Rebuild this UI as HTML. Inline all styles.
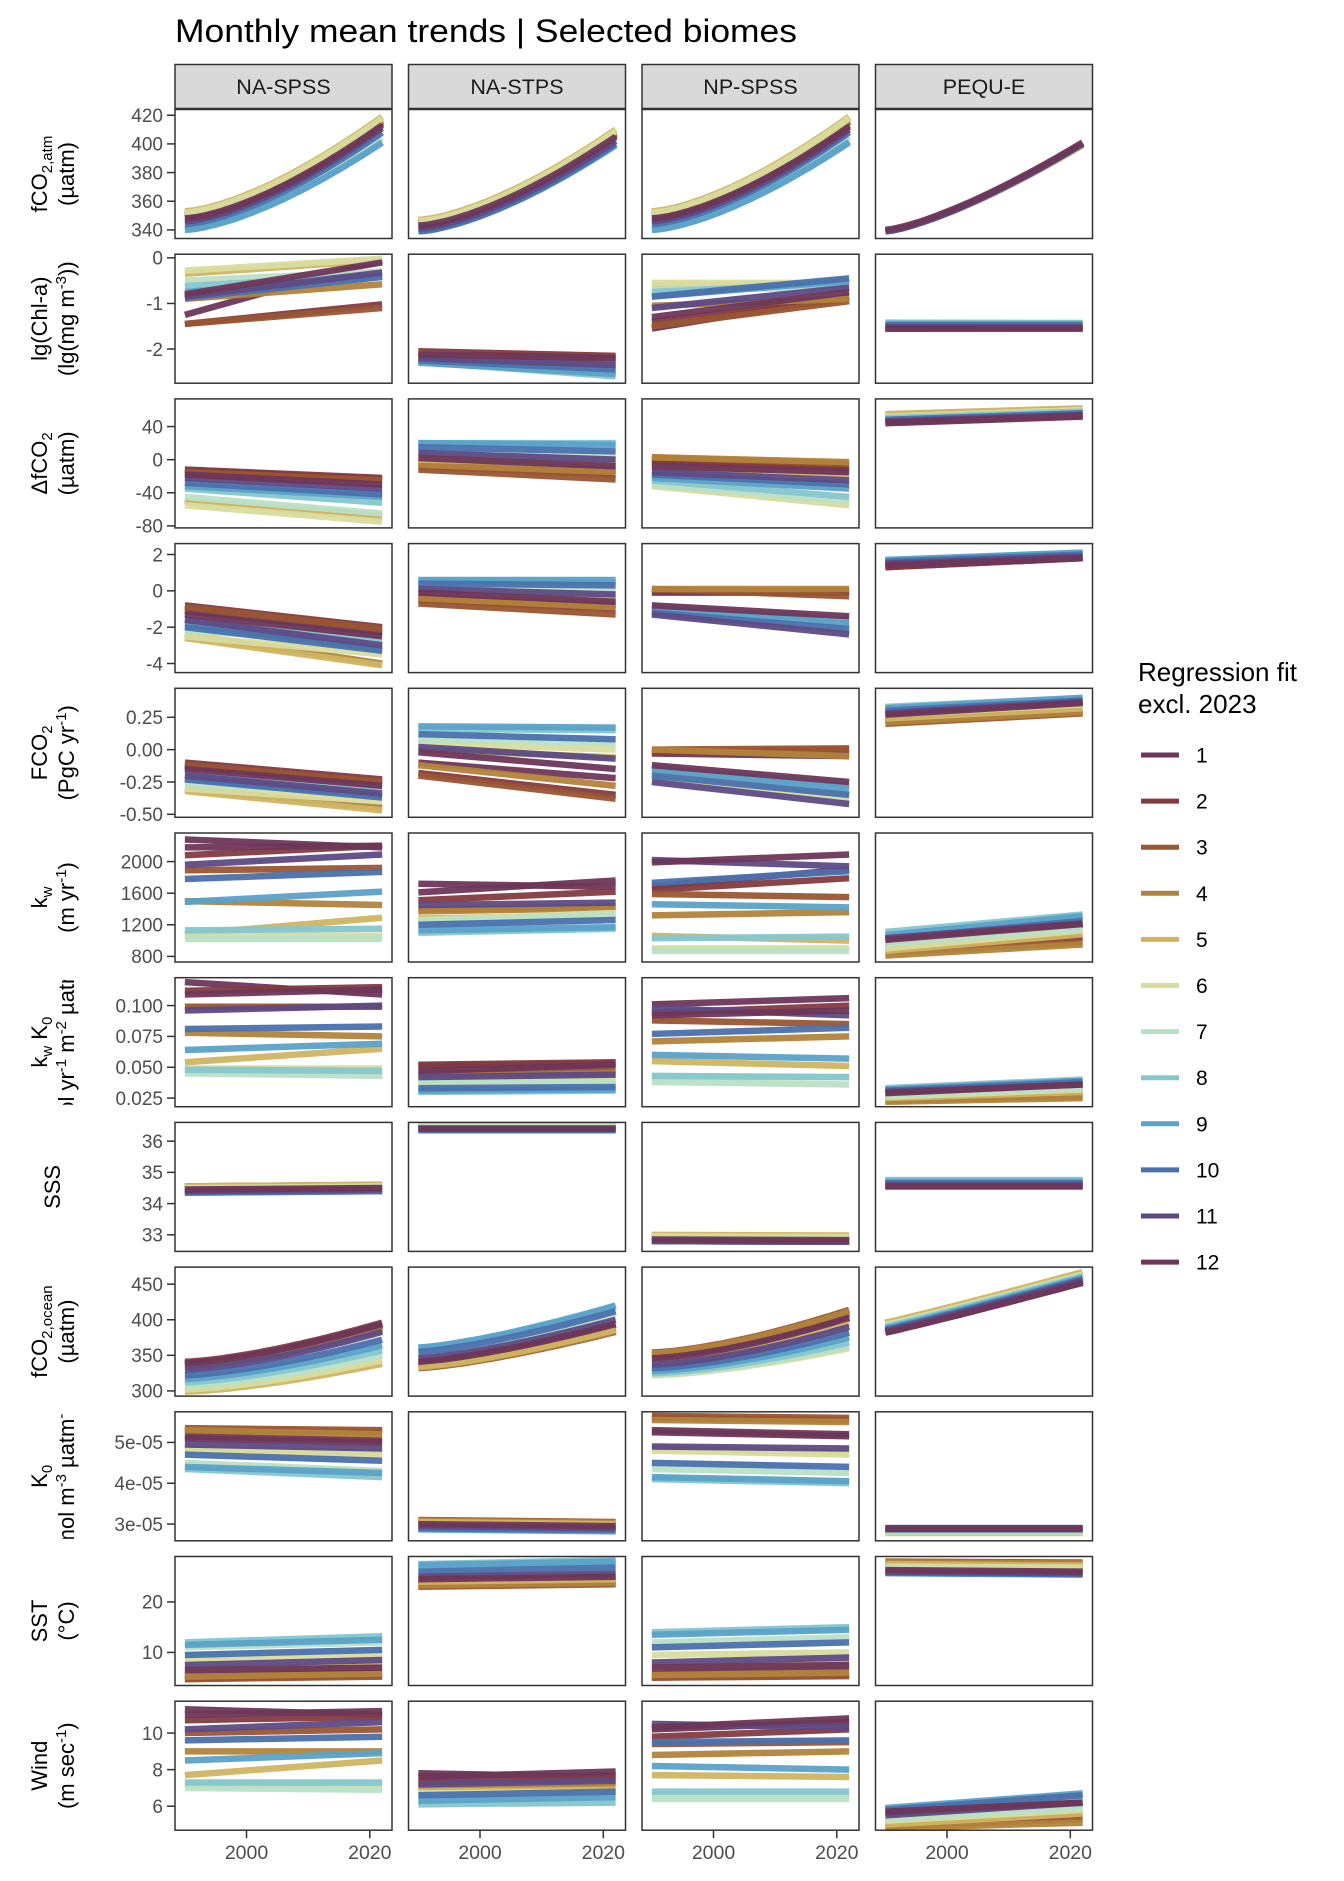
<!DOCTYPE html>
<html><head><meta charset="utf-8"><style>
html,body{margin:0;padding:0;background:#fff;}
svg{display:block;font-family:"Liberation Sans",Arial,sans-serif;}
</style></head><body>
<svg id="chart" width="1344" height="1881" viewBox="0 0 1344 1881" xmlns="http://www.w3.org/2000/svg">
<text x="175" y="42" font-size="32" fill="#000" textLength="622" lengthAdjust="spacingAndGlyphs">Monthly mean trends | Selected biomes</text>
<g id="panels"></g>
<g id="ytitles"></g>
<g id="legend"></g>
</svg>
<script>
const months = [1,2,3,4,5,6,7,8,9,10,11,12];
const biomes = ["NA-SPSS","NA-STPS","NP-SPSS","PEQU-E"];
const xTicks = [2000, 2020];
const yearStart = 1990, yearEnd = 2022;
const monthColors = ["#6e3658","#843b40","#9a5531","#b2833a","#d0b461","#d8dc9d","#b9e0c6","#85c6cf","#5aa2c8","#4a71ad","#5d4a85","#6e3658"];

const fco2atmStart = [[349,350,351,352,353,352,342,340,340,344,346,348],[344,345,346,346,347,346,343,341,339,339,341,343],[349,351,352,352,353,352,342,340,340,344,346,348],[339,339,339,339,339,339,339,339,339,339,339,340]];
const fco2atmEnd = [[414,415,416,417,419,418,404,401,401,408,411,413],[406,407,408,409,410,409,404,402,399,400,402,405],[413,415,416,417,419,418,405,402,401,408,410,412],[400,400,400,399,399,399,400,400,400,400,400,401]];
const chlStart = [[-1.25,-1.45,-1.45,-0.9,-0.35,-0.28,-0.5,-0.62,-0.75,-0.88,-0.85,-0.8],[-2.1,-2.05,-2.1,-2.12,-2.15,-2.2,-2.25,-2.28,-2.3,-2.25,-2.2,-2.12],[-1.55,-1.4,-1.5,-1.05,-0.6,-0.55,-0.7,-0.75,-0.85,-0.85,-1.1,-1.3],[-1.55,-1.55,-1.55,-1.52,-1.5,-1.47,-1.43,-1.42,-1.45,-1.48,-1.52,-1.55]];
const chlEnd = [[-0.05,-1.02,-1.1,-0.58,-0.05,-0.02,-0.3,-0.38,-0.4,-0.42,-0.32,-0.1],[-2.2,-2.15,-2.25,-2.3,-2.4,-2.5,-2.55,-2.6,-2.55,-2.45,-2.35,-2.2],[-0.85,-0.9,-0.95,-0.9,-0.6,-0.55,-0.65,-0.55,-0.5,-0.45,-0.65,-0.75],[-1.55,-1.55,-1.54,-1.52,-1.5,-1.47,-1.44,-1.43,-1.45,-1.48,-1.52,-1.55]];
const dfco2Start = [[-12,-12,-15,-50,-50,-55,-45,-35,-32,-28,-22,-18],[-3,-8,-12,-6,0,5,10,20,20,15,8,2],[-5,0,3,3,-10,-32,-30,-25,-22,-18,-15,-8],[44,46,50,53,55,52,50,50,48,48,46,45]];
const dfco2End = [[-24,-22,-25,-68,-70,-75,-65,-52,-45,-42,-35,-30],[-12,-18,-24,-15,-5,-2,5,20,18,10,0,-8],[-12,-8,-5,-3,-18,-55,-50,-45,-35,-30,-25,-15],[52,54,58,61,62,60,58,58,56,56,54,53]];
const row4Start = [[-1.1,-0.8,-0.9,-2.4,-2.6,-2.5,-2.2,-1.6,-1.8,-2.0,-1.6,-1.3],[-0.3,-0.5,-0.7,-0.4,0,0.1,0.3,0.5,0.6,0.4,0.1,-0.1],[-0.1,0,0.1,0.1,-1.1,-1.2,-1.1,-0.9,-1.0,-1.2,-1.3,-0.8],[1.3,1.3,1.4,1.5,1.6,1.6,1.6,1.7,1.7,1.6,1.5,1.4]];
const row4End = [[-2.3,-2.0,-2.1,-4.0,-4.1,-3.5,-2.8,-2.7,-3.2,-3.3,-3.0,-2.5],[-0.8,-1.0,-1.3,-0.9,-0.5,-0.3,0,0.5,0.6,0.3,-0.2,-0.6],[-0.1,0,-0.3,0.1,-2.0,-2.2,-1.9,-1.6,-1.8,-2.1,-2.4,-1.4],[1.8,1.8,1.9,2.0,2.1,2.0,2.0,2.1,2.1,2.0,1.9,1.8]];
const fluxStart = [[-0.13,-0.1,-0.12,-0.3,-0.32,-0.3,-0.27,-0.2,-0.22,-0.23,-0.2,-0.15],[-0.1,-0.18,-0.2,-0.12,0,0.05,0.08,0.16,0.18,0.12,0.02,-0.02],[-0.03,-0.02,0,0,-0.18,-0.2,-0.17,-0.14,-0.15,-0.2,-0.25,-0.12],[0.27,0.22,0.2,0.21,0.24,0.27,0.3,0.33,0.32,0.3,0.28,0.27]];
const fluxEnd = [[-0.26,-0.23,-0.25,-0.45,-0.47,-0.4,-0.33,-0.3,-0.36,-0.37,-0.34,-0.28],[-0.22,-0.35,-0.38,-0.28,-0.06,0,0.05,0.15,0.17,0.08,-0.07,-0.15],[-0.05,0,0.01,-0.05,-0.35,-0.38,-0.32,-0.28,-0.3,-0.35,-0.42,-0.25],[0.36,0.3,0.28,0.29,0.32,0.35,0.38,0.4,0.4,0.38,0.37,0.36]];
const kwStart = [[2280,2080,1890,1500,1080,1060,1020,1130,1490,1780,1960,2180],[1720,1510,1390,1370,1280,1260,1250,1100,1130,1200,1450,1610],[1690,1640,1590,1320,1060,900,870,1030,1460,1730,2020,1990],[1000,930,850,810,870,900,960,1110,1070,1020,1030,1010]];
const kwEnd = [[2180,2200,1920,1450,1290,1060,1020,1150,1620,1870,2090,2200],[1680,1620,1430,1410,1320,1350,1330,1150,1170,1260,1480,1760],[1900,1790,1550,1360,1000,900,870,1050,1420,1880,1940,2090],[1200,1040,980,950,1080,1130,1150,1330,1310,1250,1220,1210]];
const kwk0Start = [[0.119,0.112,0.099,0.078,0.054,0.049,0.045,0.048,0.064,0.081,0.096,0.109],[0.051,0.052,0.045,0.042,0.039,0.038,0.037,0.030,0.031,0.033,0.042,0.047],[0.101,0.094,0.088,0.071,0.055,0.042,0.038,0.043,0.060,0.077,0.098,0.092],[0.029,0.026,0.023,0.022,0.025,0.026,0.027,0.033,0.032,0.031,0.030,0.029]];
const kwk0End = [[0.109,0.115,0.099,0.075,0.065,0.049,0.043,0.047,0.069,0.083,0.100,0.113],[0.053,0.054,0.048,0.045,0.040,0.039,0.038,0.031,0.032,0.034,0.044,0.052],[0.106,0.100,0.085,0.075,0.051,0.042,0.036,0.042,0.057,0.082,0.092,0.096],[0.035,0.031,0.027,0.025,0.030,0.032,0.033,0.040,0.039,0.038,0.036,0.036]];
const sssStart = [[34.45,34.5,34.55,34.55,34.55,34.5,34.45,34.4,34.35,34.35,34.4,34.45],[36.4,36.45,36.5,36.55,36.55,36.5,36.45,36.4,36.35,36.35,36.4,36.4],[32.85,32.9,32.95,32.95,33.0,32.95,32.85,32.8,32.8,32.8,32.8,32.85],[34.55,34.6,34.65,34.7,34.7,34.7,34.75,34.75,34.7,34.65,34.6,34.55]];
const sssEnd = [[34.5,34.55,34.6,34.6,34.6,34.55,34.5,34.45,34.4,34.4,34.45,34.5],[36.4,36.45,36.5,36.55,36.55,36.5,36.45,36.4,36.35,36.35,36.4,36.4],[32.83,32.88,32.93,32.93,32.98,32.93,32.83,32.78,32.78,32.78,32.78,32.83],[34.55,34.6,34.65,34.7,34.7,34.7,34.75,34.75,34.7,34.65,34.6,34.55]];
const fco2ocStart = [[338,341,336,334,299,302,307,312,317,322,330,339],[340,336,332,333,334,348,352,360,361,355,346,341],[345,350,354,353,340,322,323,325,328,332,337,346],[382,384,390,394,396,393,391,390,388,386,384,382]];
const fco2ocEnd = [[392,396,388,386,338,343,350,357,364,372,383,394],[393,388,383,384,386,404,410,419,420,412,400,394],[402,408,414,412,395,360,363,368,375,382,390,403],[452,455,462,465,467,464,462,461,459,457,455,452]];
const k0Start = [[5.15,5.3,5.35,5.3,4.85,4.8,4.5,4.35,4.4,4.7,4.95,5.1],[3.0,3.05,3.1,3.08,3.05,3.0,2.95,2.9,2.87,2.9,2.95,3.0],[5.3,5.6,5.65,5.55,4.85,4.8,4.35,4.1,4.15,4.5,4.9,5.25],[2.88,2.88,2.85,2.8,2.78,2.8,2.82,2.85,2.88,2.9,2.9,2.88]];
const k0End = [[5.05,5.25,5.3,5.2,4.75,4.7,4.3,4.15,4.25,4.55,4.85,5.0],[2.95,3.0,3.05,3.03,3.0,2.95,2.9,2.85,2.82,2.85,2.9,2.95],[5.2,5.55,5.6,5.5,4.75,4.7,4.25,4.0,4.05,4.4,4.85,5.15],[2.88,2.88,2.85,2.8,2.78,2.8,2.82,2.85,2.88,2.9,2.9,2.88]];
const sstStart = [[5.5,4.8,4.7,5.2,6.5,8.5,11,12,11.5,9.5,7.5,6.5],[24,23.5,23,23.3,24,25.5,26.5,27.5,27.3,26,25,24.5],[6,5,5,5.5,7,9.5,12,14,13.5,11,8,7],[26.8,27.5,28,27.8,27.5,27,26.5,26.2,25.7,25.8,26,26.3]];
const sstEnd = [[6.0,5.5,5.2,5.8,7.5,9.5,12,13.2,12.5,10.5,8.5,7.0],[24.3,24,23.5,23.8,24.5,26,27.2,28.3,28,26.8,25.5,25],[6.5,5.5,5.3,6,8,10,13,15,14.5,12,9,7.5],[26.5,27.3,27.8,27.6,27.2,26.8,26.2,25.9,25.4,25.5,25.7,26]];
const windStart = [[11.3,10.7,10.0,9.0,7.7,7.2,7.0,7.3,8.5,9.6,10.2,11.0],[7.8,7.4,7.2,7.0,6.8,6.7,6.6,6.1,6.3,6.6,7.2,7.6],[10.2,9.8,9.4,8.8,7.7,6.6,6.4,6.8,8.2,9.5,10.5,10.3],[5.5,5.2,4.9,4.8,5.0,5.2,5.3,5.7,5.9,5.8,5.5,5.7]];
const windEnd = [[11.0,10.9,10.2,9.0,8.5,7.1,6.9,7.3,8.9,9.8,10.6,11.2],[7.6,7.7,7.3,7.1,6.9,6.8,6.7,6.2,6.5,6.8,7.4,7.9],[10.6,10.2,9.5,9.0,7.6,6.6,6.4,6.8,8.0,9.6,10.3,10.8],[6.1,5.6,5.3,5.1,5.6,5.8,5.9,6.5,6.7,6.6,6.2,6.2]];

const tickFco2atm = [340,360,380,400,420];
const tickChl = [0,-1,-2];
const tickDfco2 = [40,0,-40,-80];
const tickRow4 = [2,0,-2,-4];
const tickFlux = [0.25,0,-0.25,-0.5];
const tickKw = [800,1200,1600,2000];
const tickKwk0 = [0.1,0.075,0.05,0.025];
const tickSss = [33,34,35,36];
const tickFco2oc = [300,350,400,450];
const tickK0 = [3,4,5];
const tickSst = [10,20];
const tickWind = [6,8,10];

const NS = "http://www.w3.org/2000/svg";
function mk(tag, attrs, parent){const e=document.createElementNS(NS,tag);for(const k in attrs)e.setAttribute(k,attrs[k]);if(parent)parent.appendChild(e);return e;}

const rows = [
 {name:"fco2-atm", s:fco2atmStart, e:fco2atmEnd, lo:334, hi:424, ticks:tickFco2atm, fmt:v=>String(v), curve:[1.5,1.5,1.5,1.35]},
 {name:"chl", s:chlStart, e:chlEnd, lo:-2.75, hi:0.08, ticks:tickChl, fmt:v=>String(v)},
 {name:"delta-fco2", s:dfco2Start, e:dfco2End, lo:-82.4, hi:73.4, ticks:tickDfco2, fmt:v=>String(v)},
 {name:"row4", s:row4Start, e:row4End, lo:-4.5, hi:2.6, ticks:tickRow4, fmt:v=>String(v)},
 {name:"fco2-flux", s:fluxStart, e:fluxEnd, lo:-0.523, hi:0.474, ticks:tickFlux, fmt:v=>v.toFixed(2)},
 {name:"kw", s:kwStart, e:kwEnd, lo:729, hi:2362, ticks:tickKw, fmt:v=>String(v)},
 {name:"kw-k0", s:kwk0Start, e:kwk0End, lo:0.018, hi:0.1226, ticks:tickKwk0, fmt:v=>v.toFixed(3)},
 {name:"sss", s:sssStart, e:sssEnd, lo:32.47, hi:36.6, ticks:tickSss, fmt:v=>String(v)},
 {name:"fco2-ocean", s:fco2ocStart, e:fco2ocEnd, lo:292.7, hi:474, ticks:tickFco2oc, fmt:v=>String(v), curve:[1.45,1.35,1.5,1.05]},
 {name:"k0", s:k0Start, e:k0End, lo:2.59, hi:5.75, ticks:tickK0, fmt:v=>v+"e-05"},
 {name:"sst", s:sstStart, e:sstEnd, lo:3.45, hi:29.0, ticks:tickSst, fmt:v=>String(v)},
 {name:"wind", s:windStart, e:windEnd, lo:4.69, hi:11.74, ticks:tickWind, fmt:v=>String(v)}
];

const P_LEFT0=175, P_STEP=233.5, P_W=217, R_TOP0=109.5, R_STEP=144.7, R_H=129;
const X0=1988.4, X1=2023.6;
function xScale(c, yr){return P_LEFT0 + c*P_STEP + (yr-X0)/(X1-X0)*P_W;}
function yScale(r, v){const R=rows[r];const top=R_TOP0+r*R_STEP;return top + (R.hi - v)/(R.hi-R.lo)*R_H;}

const panels=document.getElementById("panels");
biomes.forEach((b,c)=>{
  const x=P_LEFT0+c*P_STEP;
  const g=mk("g",{},panels);
  
  
  mk("rect",{x:x,y:64.5,width:P_W,height:44,fill:"#d9d9d9",stroke:"#333","stroke-width":1.5},g);
  const t=mk("text",{x:x+P_W/2,y:94,"font-size":21.5,"text-anchor":"middle",fill:"#1a1a1a"},g);
  t.textContent=b;
});

rows.forEach((R,r)=>{
  const top=R_TOP0+r*R_STEP;
  const ya=mk("g",{},panels);
  
  
  R.ticks.forEach(v=>{
    const y=yScale(r,v);
    mk("line",{x1:167,x2:175,y1:y,y2:y,stroke:"#333","stroke-width":1.5},ya);
    const t=mk("text",{x:163,y:y+6.8,"font-size":19,"text-anchor":"end",fill:"#4d4d4d"},ya);
    t.textContent=R.fmt(v);
  });
  biomes.forEach((b,c)=>{
    const x=P_LEFT0+c*P_STEP;
    const g=mk("g",{},panels);
    
    
    const cid="clip-"+r+"-"+c;
    const cp=mk("clipPath",{id:cid},g);
    mk("rect",{x:x,y:top,width:P_W,height:R_H},cp);
    mk("rect",{x:x,y:top,width:P_W,height:R_H,fill:"#fff"},g);
    const lg=mk("g",{"clip-path":"url(#"+cid+")"},g);
    months.forEach((m,i)=>{
      const s=R.s[c][i], e=R.e[c][i];
      let d;
      if(R.curve){
        const k=R.curve[c];
        const pts=[];
        for(let yr=yearStart;yr<=yearEnd;yr+=1){
          const f=(yr-yearStart)/(yearEnd-yearStart);
          const v=s+(e-s)*Math.pow(f,k);
          pts.push(xScale(c,yr).toFixed(1)+","+yScale(r,v).toFixed(1));
        }
        d="M"+pts.join(" L");
      } else {
        d="M"+xScale(c,yearStart)+","+yScale(r,s)+" L"+xScale(c,yearEnd)+","+yScale(r,e);
      }
      const p=mk("path",{d:d,fill:"none",stroke:monthColors[i],"stroke-width":6.5,"stroke-opacity":0.95},lg);
      
      
    });
    mk("rect",{x:x,y:top,width:P_W,height:R_H,fill:"none",stroke:"#333","stroke-width":1.5},g);
    if(r===rows.length-1){
      const xa=mk("g",{},g);
      
      
      xTicks.forEach(yr=>{
        const xx=xScale(c,yr);
        mk("line",{x1:xx,x2:xx,y1:top+R_H,y2:top+R_H+8,stroke:"#333","stroke-width":1.5},xa);
        const t=mk("text",{x:xx,y:1859,"font-size":19.5,"text-anchor":"middle",fill:"#4d4d4d"},xa);
        t.textContent=String(yr);
      });
    }
  });
});

const yt=document.getElementById("ytitles");
const titleDefs=[
 [0,'fCO<tspan dy="5" font-size="15">2,atm</tspan>','(µatm)'],
 [1,'lg(Chl-a)','(lg(mg m<tspan dy="-8" font-size="15">-3</tspan><tspan dy="8">))</tspan>'],
 [2,'ΔfCO<tspan dy="5" font-size="15">2</tspan>','(µatm)'],
 [4,'FCO<tspan dy="5" font-size="15">2</tspan>','(PgC yr<tspan dy="-8" font-size="15">-1</tspan><tspan dy="8">)</tspan>'],
 [5,'k<tspan dy="5" font-size="15">w</tspan>','(m yr<tspan dy="-8" font-size="15">-1</tspan><tspan dy="8">)</tspan>'],
 [6,'k<tspan dy="5" font-size="15">w</tspan><tspan dy="-5"> K</tspan><tspan dy="5" font-size="15">0</tspan>','(mol yr<tspan dy="-8" font-size="15">-1</tspan><tspan dy="8"> m</tspan><tspan dy="-8" font-size="15">-2</tspan><tspan dy="8"> µatm</tspan><tspan dy="-8" font-size="15">-1</tspan><tspan dy="8">)</tspan>'],
 [7,'SSS',null],
 [8,'fCO<tspan dy="5" font-size="15">2,ocean</tspan>','(µatm)'],
 [9,'K<tspan dy="5" font-size="15">0</tspan>','(mol m<tspan dy="-8" font-size="15">-3</tspan><tspan dy="8"> µatm</tspan><tspan dy="-8" font-size="15">-1</tspan><tspan dy="8">)</tspan>'],
 [10,'SST','(°C)'],
 [11,'Wind','(m sec<tspan dy="-8" font-size="15">-1</tspan><tspan dy="8">)</tspan>']
];
titleDefs.forEach(([r,l1,l2])=>{
  const top=R_TOP0+r*R_STEP, cy=top+R_H/2;
  const g=mk("g",{},yt);
  
  
  const cid="tclip-"+r;
  const cp=mk("clipPath",{id:cid},g);
  mk("rect",{x:0,y:top+2,width:120,height:R_H-4},cp);
  const gg=mk("g",{"clip-path":"url(#"+cid+")"},g);
  if(l2===null){
    const t=mk("text",{x:0,y:0,"font-size":22,"text-anchor":"middle",fill:"#000",transform:"translate(60,"+cy+") rotate(-90)"},gg);
    t.innerHTML=l1;
  } else {
    const t1=mk("text",{x:0,y:0,"font-size":22,"text-anchor":"middle",fill:"#000",transform:"translate(47,"+cy+") rotate(-90)"},gg);
    t1.innerHTML=l1;
    const t2=mk("text",{x:0,y:0,"font-size":22,"text-anchor":"middle",fill:"#000",transform:"translate(74,"+cy+") rotate(-90)"},gg);
    t2.innerHTML=l2;
  }
});

const lgd=document.getElementById("legend");
const lt1=mk("text",{x:1138,y:681,"font-size":26,fill:"#000"},lgd);
lt1.textContent="Regression fit";


const lt2=mk("text",{x:1138,y:713,"font-size":26,fill:"#000"},lgd);
lt2.textContent="excl. 2023";


months.forEach((m,i)=>{
  const y=755+i*46.1;
  const g=mk("g",{},lgd);
  
  
  mk("line",{x1:1141,x2:1179,y1:y,y2:y,stroke:monthColors[i],"stroke-width":5},g);
  const t=mk("text",{x:1196,y:y+7.5,"font-size":21,fill:"#000"},g);
  t.textContent=String(m);
});
</script>
</body></html>
